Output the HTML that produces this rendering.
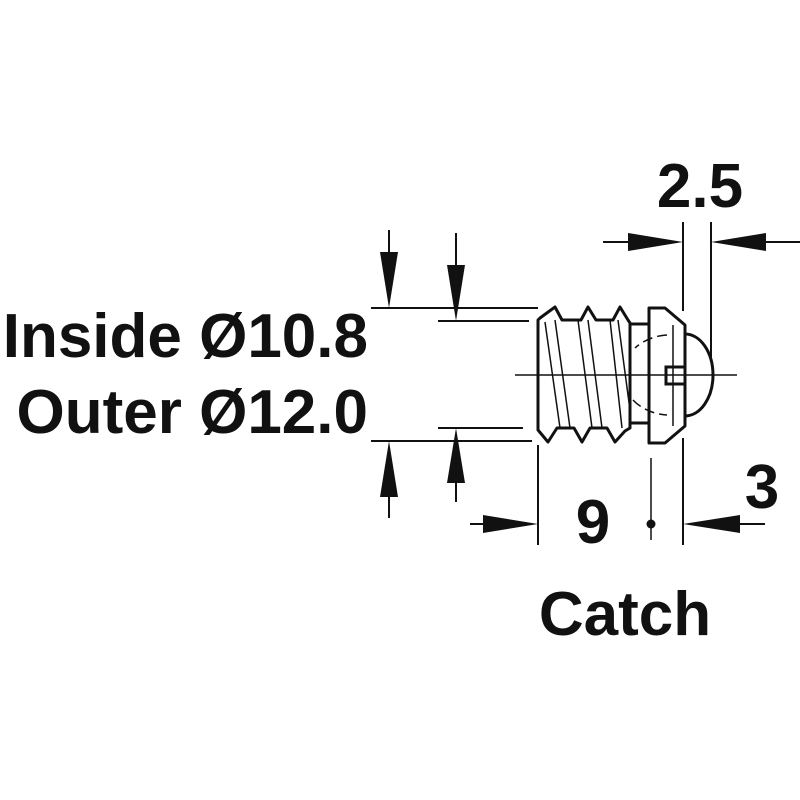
<!DOCTYPE html>
<html><head><style>
html,body{margin:0;padding:0;background:#fff;width:800px;height:800px;overflow:hidden}
text{font-family:"Liberation Sans",sans-serif;font-weight:bold;fill:#111}
</style></head><body>
<svg width="800" height="800" viewBox="0 0 800 800" xmlns="http://www.w3.org/2000/svg">
<g stroke="#111" stroke-width="2" fill="none">
<line x1="371" y1="308" x2="538" y2="308"/>
<line x1="438" y1="321" x2="529" y2="321"/>
<line x1="438" y1="428" x2="523" y2="428"/>
<line x1="371" y1="441" x2="532" y2="441"/>
<line x1="389" y1="230" x2="389" y2="260"/>
<line x1="456" y1="233" x2="456" y2="270"/>
<line x1="389" y1="490" x2="389" y2="518"/>
<line x1="456" y1="478" x2="456" y2="502"/>
<line x1="515" y1="375" x2="737" y2="375" stroke-width="1.5"/>
<line x1="683" y1="222" x2="683" y2="311"/>
<line x1="711" y1="222" x2="711" y2="358"/>
<line x1="603" y1="242" x2="640" y2="242"/>
<line x1="750" y1="242" x2="800" y2="242"/>
<line x1="538" y1="445" x2="538" y2="545"/>
<line x1="651" y1="458" x2="651" y2="540" stroke-width="1.5"/>
<line x1="683" y1="438" x2="683" y2="545"/>
<line x1="470" y1="524" x2="500" y2="524"/>
<line x1="730" y1="524" x2="765" y2="524"/>
<path d="M540,318 L555,307 L562,320 L581,320 L588,307 L596,320 L613,320 L620,307 L628,320 L630,323 L630,428 L625,431 L615,442 L607,428 L590,428 L582,442 L574,428 L557,428 L548,442 L538,430 L538,320 Z" stroke-width="3" stroke-linejoin="round"/>
<path d="M545,322 L560,428 M555,320 L570,428 M578,320 L592,428 M588,320 L602,428 M610,320 L622,428 M618,320 L630,410" stroke-width="1.5"/>
<path d="M630,324 L649,324 M630,423 L649,423" stroke-width="3"/>
<path d="M649,308 L665,308 L685,325 L685,426 L665,443 L649,443 Z" stroke-width="3" stroke-linejoin="round"/>
<line x1="673" y1="325" x2="673" y2="426" stroke-width="1.5"/>
<path d="M685,367 L666,367 L666,384 L685,384" stroke-width="3"/>
<path d="M685,334 A28,41 0 0 1 685,416" stroke-width="3"/>
<path d="M667,335 A48,41 0 0 0 635,348 M633,400 A48,41 0 0 0 667,415" stroke-width="1.5" stroke-dasharray="10,5"/>
</g>
<g fill="#111">
<polygon points="380,252 398,252 389,308"/>
<polygon points="447,265 465,265 456,321"/>
<polygon points="380,497 398,497 389,441"/>
<polygon points="447,483 465,483 456,428"/>
<polygon points="628,233 628,251 683,242"/>
<polygon points="766,233 766,251 711,242"/>
<polygon points="483,515 483,533 538,524"/>
<polygon points="740,515 740,533 683,524"/>
<circle cx="651" cy="524" r="4.5"/>
</g>
<text x="368" y="357" font-size="62" text-anchor="end">Inside Ø10.8</text>
<text x="368" y="433" font-size="62" text-anchor="end">Outer Ø12.0</text>
<text x="700" y="207" font-size="62" text-anchor="middle">2.5</text>
<text x="593" y="543" font-size="62" text-anchor="middle">9</text>
<text x="762" y="508" font-size="62" text-anchor="middle">3</text>
<text x="625" y="635" font-size="62" text-anchor="middle">Catch</text>
</svg>
</body></html>
